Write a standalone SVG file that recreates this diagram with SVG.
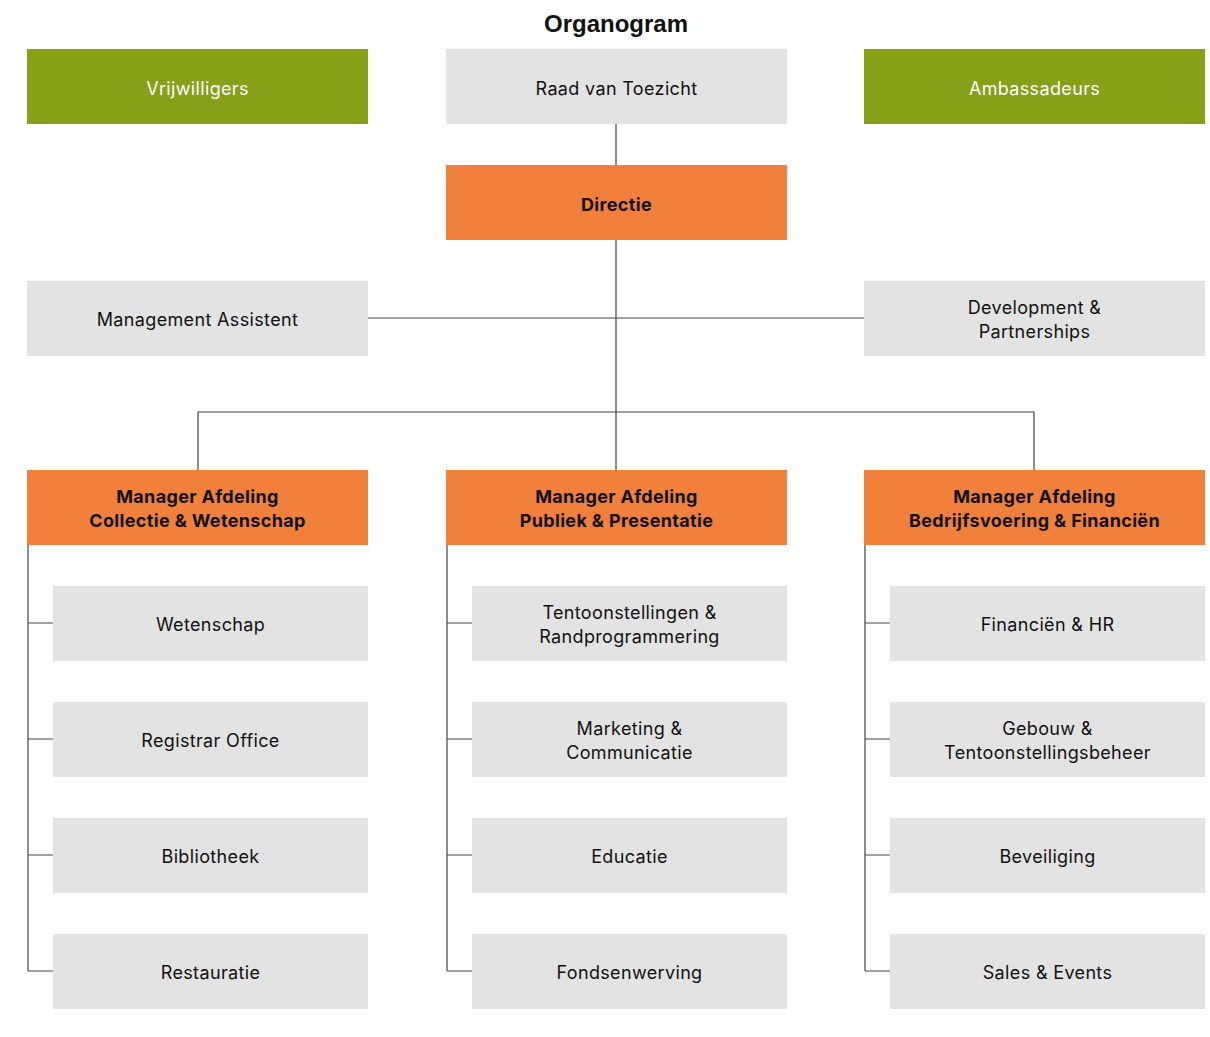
<svg xmlns="http://www.w3.org/2000/svg" width="1210" height="1037" viewBox="0 0 1210 1037">
<style>
.bg{fill:#ffffff}
.green{fill:#86a018}
.orange{fill:#f0803c}
.grey{fill:#e3e3e3}
text{font-family:"Inter","Liberation Sans",sans-serif;font-size:18px;text-anchor:middle;dominant-baseline:central;fill:#111111;letter-spacing:0.35px}
.w{fill:#ffffff}
.b{font-weight:bold}
.title{font-family:"Liberation Sans",Arial,sans-serif;font-size:24px;font-weight:bold;letter-spacing:0}
.ln{stroke:#444444;stroke-width:1.2;fill:none}
</style>
<rect class="bg" x="0" y="0" width="1210" height="1037"/>
<text class="title" x="616" y="23">Organogram</text>
<g id="connectors">
<path class="ln" d="M616,124 V165"/>
<path class="ln" d="M616,240 V470"/>
<path class="ln" d="M368,318 H864"/>
<path class="ln" d="M198,470 V412 H1034 V470"/>
<path class="ln" d="M28,545 V971"/>
<path class="ln" d="M28,623 H53 M28,739 H53 M28,855 H53 M28,971 H53"/>
<path class="ln" d="M447,545 V971"/>
<path class="ln" d="M447,623 H472 M447,739 H472 M447,855 H472 M447,971 H472"/>
<path class="ln" d="M865,545 V971"/>
<path class="ln" d="M865,623 H890 M865,739 H890 M865,855 H890 M865,971 H890"/>
</g>
<g id="vrijwilligers"><rect class="green" x="27" y="49" width="341" height="75"/><text class="w" x="197.5" y="88">Vrijwilligers</text></g>
<g id="raad"><rect class="grey" x="446" y="49" width="341" height="75"/><text x="616.5" y="88">Raad van Toezicht</text></g>
<g id="ambassadeurs"><rect class="green" x="864" y="49" width="341" height="75"/><text class="w" x="1034.5" y="88">Ambassadeurs</text></g>
<g id="directie"><rect class="orange" x="446" y="165" width="341" height="75"/><text class="b" x="616.5" y="204">Directie</text></g>
<g id="management-assistent"><rect class="grey" x="27" y="281" width="341" height="75"/><text x="197.5" y="319">Management Assistent</text></g>
<g id="development"><rect class="grey" x="864" y="281" width="341" height="75"/><text x="1034.5" y="307">Development &amp;</text><text x="1034.5" y="331">Partnerships</text></g>
<g id="mgr-collectie"><rect class="orange" x="27" y="470" width="341" height="75"/><text class="b" x="197.5" y="496">Manager Afdeling</text><text class="b" x="197.5" y="520">Collectie &amp; Wetenschap</text></g>
<g id="mgr-publiek"><rect class="orange" x="446" y="470" width="341" height="75"/><text class="b" x="616.5" y="496">Manager Afdeling</text><text class="b" x="616.5" y="520">Publiek &amp; Presentatie</text></g>
<g id="mgr-bedrijfsvoering"><rect class="orange" x="864" y="470" width="341" height="75"/><text class="b" x="1034.5" y="496">Manager Afdeling</text><text class="b" x="1034.5" y="520">Bedrijfsvoering &amp; Financiën</text></g>
<g id="wetenschap"><rect class="grey" x="53" y="586" width="315" height="75"/><text x="210.5" y="624">Wetenschap</text></g>
<g id="registrar"><rect class="grey" x="53" y="702" width="315" height="75"/><text x="210.5" y="740">Registrar Office</text></g>
<g id="bibliotheek"><rect class="grey" x="53" y="818" width="315" height="75"/><text x="210.5" y="856">Bibliotheek</text></g>
<g id="restauratie"><rect class="grey" x="53" y="934" width="315" height="75"/><text x="210.5" y="972">Restauratie</text></g>
<g id="tentoonstellingen"><rect class="grey" x="472" y="586" width="315" height="75"/><text x="629.5" y="612">Tentoonstellingen &amp;</text><text x="629.5" y="636">Randprogrammering</text></g>
<g id="marketing"><rect class="grey" x="472" y="702" width="315" height="75"/><text x="629.5" y="728">Marketing &amp;</text><text x="629.5" y="752">Communicatie</text></g>
<g id="educatie"><rect class="grey" x="472" y="818" width="315" height="75"/><text x="629.5" y="856">Educatie</text></g>
<g id="fondsenwerving"><rect class="grey" x="472" y="934" width="315" height="75"/><text x="629.5" y="972">Fondsenwerving</text></g>
<g id="financien"><rect class="grey" x="890" y="586" width="315" height="75"/><text x="1047.5" y="624">Financiën &amp; HR</text></g>
<g id="gebouw"><rect class="grey" x="890" y="702" width="315" height="75"/><text x="1047.5" y="728">Gebouw &amp;</text><text x="1047.5" y="752">Tentoonstellingsbeheer</text></g>
<g id="beveiliging"><rect class="grey" x="890" y="818" width="315" height="75"/><text x="1047.5" y="856">Beveiliging</text></g>
<g id="sales"><rect class="grey" x="890" y="934" width="315" height="75"/><text x="1047.5" y="972">Sales &amp; Events</text></g>
</svg>
